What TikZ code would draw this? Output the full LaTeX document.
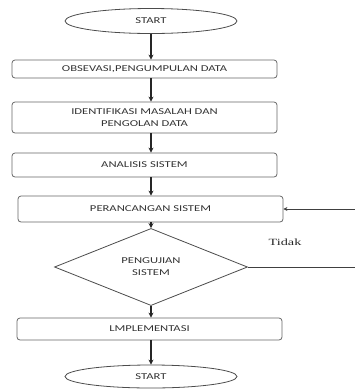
\documentclass[tikz,border=0pt]{standalone}
\usepackage{fontspec}
\newfontfamily\boxfont[FakeStretch=1.4]{Carlito}
\newfontfamily\lblfont[FakeStretch=1.5]{Liberation Serif}
\usetikzlibrary{shapes.geometric,arrows.meta}
\begin{document}
\begin{tikzpicture}[x=1pt,y=-1pt,
  txt/.style={font=\boxfont\fontsize{9}{12}\selectfont, text=black!80},
  box/.style={txt, draw=black!60, line width=0.8pt, rounded corners=3pt,
    minimum width=265pt, inner sep=0pt, align=center},
  term/.style={txt, draw=black!70, line width=0.8pt, ellipse,
    minimum width=172pt, inner sep=0pt},
  dec/.style={txt, draw=black!70, line width=0.8pt, diamond, align=center,
    minimum width=193pt, minimum height=66pt, inner sep=0pt},
  flow/.style={line width=1.6pt, black!85, -{Stealth[length=5pt,width=5pt]}},
  back/.style={line width=0.8pt, black!75, -{Stealth[length=4pt,width=4pt]}}]
\useasboundingbox (0,0) rectangle (355,392);

\node[term, minimum height=25pt] (start) at (151,21) {START};
\node[box, minimum height=18pt] (b1) at (144.5,69) {OBSEVASI,PENGUMPULAN DATA};
\node[box, minimum height=31pt] (b2) at (144.5,117.5) {IDENTIFIKASI MASALAH DAN\\PENGOLAN DATA};
\node[box, minimum height=24pt] (b3) at (144.5,165) {ANALISIS SISTEM};
\node[box, minimum height=26pt] (b4) at (150.5,209) {PERANCANGAN SISTEM};
\node[dec] (dia) at (151,267) {PENGUJIAN\\SISTEM};
\node[box, minimum height=22pt] (b5) at (149.5,329) {LMPLEMENTASI};
\node[term, minimum height=23pt] (end) at (151,376.5) {START};
\node[font=\lblfont\fontsize{9.5}{11}\selectfont, text=black!85] (tidak) at (285,242) {Tidak};
\coordinate (loopc) at (362,267);

\draw[flow] (start.south) -- (start.south |- b1.north);
\draw[flow] (b1.south -| start.south) -- (start.south |- b2.north);
\draw[flow] (b2.south -| start.south) -- (start.south |- b3.north);
\draw[flow] (b3.south -| start.south) -- (start.south |- b4.north);
\draw[flow] (b4.south -| dia.north) -- (dia.north);
\draw[flow] (dia.south) -- (dia.south |- b5.north);
\draw[flow] (b5.south -| end.north) -- (end.north);
\draw[back] (dia.east) -- (loopc) -- (loopc |- b4.east) -- (b4.east);
\end{tikzpicture}
\end{document}
